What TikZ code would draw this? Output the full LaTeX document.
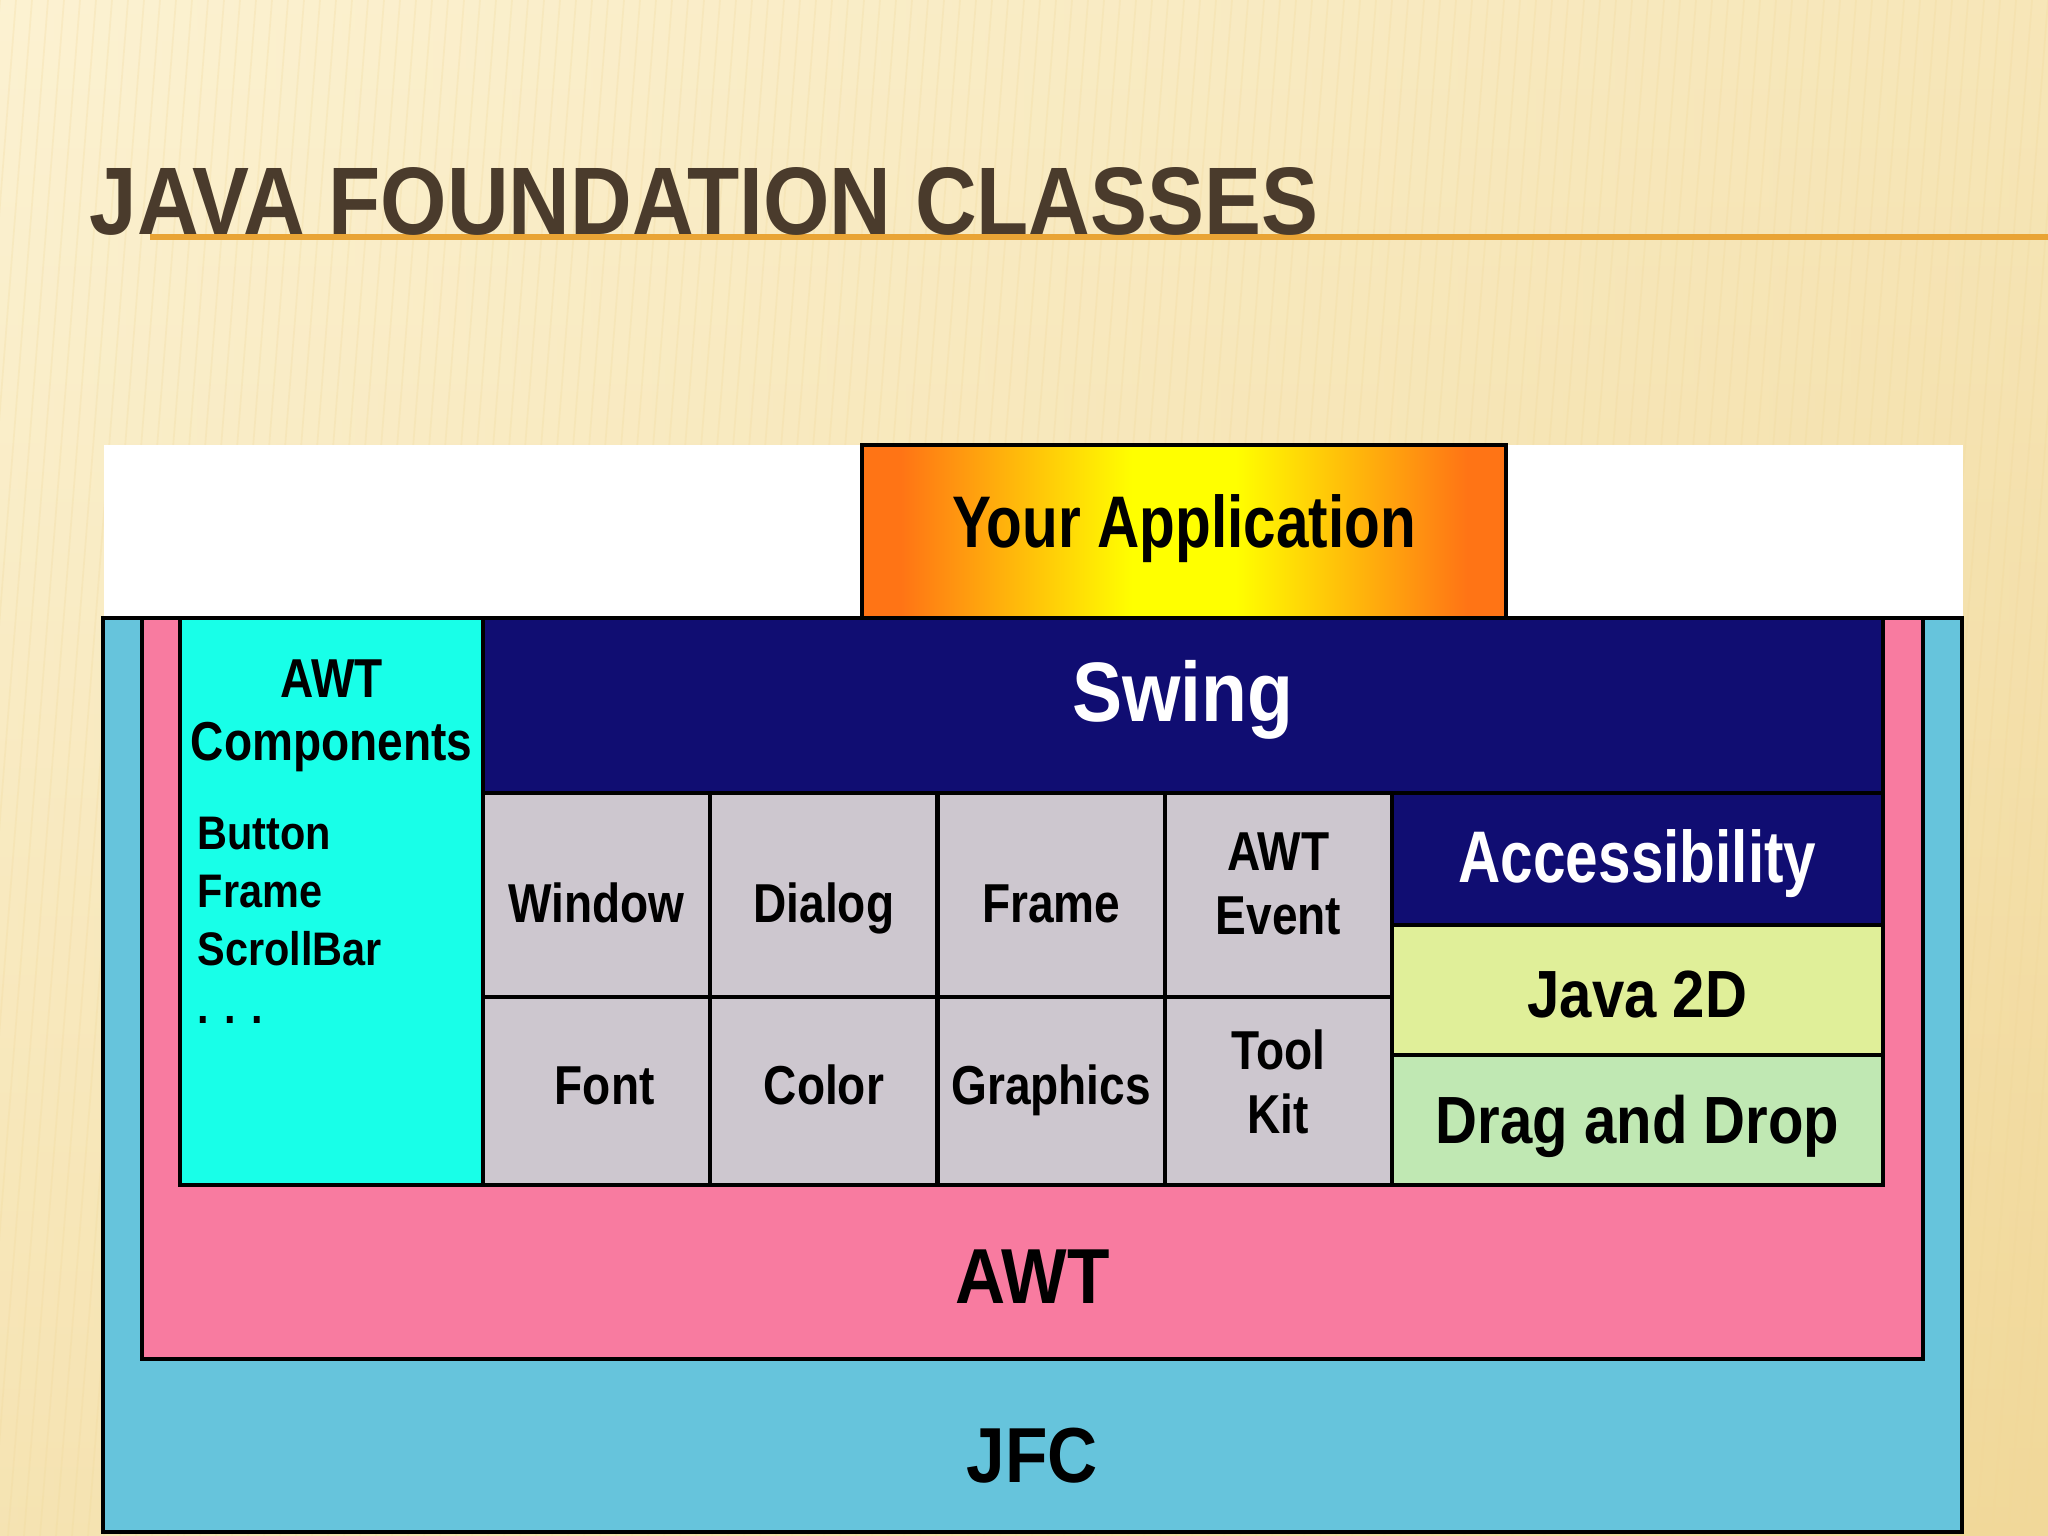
\documentclass[tikz,border=0pt]{standalone}
\usepackage{fontspec}
\setmainfont{Liberation Sans}
\usepackage{graphicx}
\usetikzlibrary{positioning}

\definecolor{bgtop}{HTML}{FCF2D2}
\definecolor{bgbot}{HTML}{F1D899}
\definecolor{titlebrown}{HTML}{4A3B2C}
\definecolor{titleline}{HTML}{E9A435}
\definecolor{jfcblue}{HTML}{66C4DC}
\definecolor{awtpink}{HTML}{F87BA0}
\definecolor{compcyan}{HTML}{18FFE8}
\definecolor{swingnavy}{HTML}{100D72}
\definecolor{cellgray}{HTML}{CDC7CF}
\definecolor{javayellow}{HTML}{E0EF99}
\definecolor{dndgreen}{HTML}{C0E8B3}
\definecolor{apporange}{HTML}{FF7415}
\pgfdeclarehorizontalshading{appshade}{100bp}{color(0bp)=(apporange); color(28bp)=(apporange); color(46bp)=(yellow); color(54bp)=(yellow); color(72bp)=(apporange); color(100bp)=(apporange)}

\newcommand{\nar}[1]{\scalebox{0.84}[1]{#1}}

\begin{document}
\begin{tikzpicture}[x=1cm,y=-1cm,
  box/.style={draw=black,line width=1.2pt,anchor=north west,inner sep=0pt,outer sep=0pt},
  cell/.style={box,fill=cellgray,minimum width=2.2725cm},
  txt/.style={inner sep=0pt,anchor=base,text=black,font=\bfseries\fontsize{15.6}{18}\selectfont},
  twoline/.style={txt,anchor=center,align=center},
  listtxt/.style={txt,anchor=base west,font=\bfseries\fontsize{13.4}{16}\selectfont},
  midtxt/.style={txt,font=\bfseries\fontsize{19}{22}\selectfont},
  bigtxt/.style={txt,font=\bfseries\fontsize{22.2}{26}\selectfont}]

%background
\useasboundingbox (0,0) rectangle (20.48,15.36);
\shade[top color=bgtop,bottom color=bgbot] (0,0) rectangle (20.48,15.36);
\shade[left color=bgtop,right color=bgbot,opacity=0.45] (0,0) rectangle (20.48,15.36);
\begin{scope}
\clip (0,0) rectangle (20.48,15.36);
\foreach \s in {0,0.16,...,22}
	\draw[bgbot,opacity=0.25,line width=0.5pt] (\s,0) -- (\s-1.2,15.36);
\end{scope}

%title
\draw[titleline,line width=1.6pt] (1.5,2.37) -- (20.48,2.37);
\node[inner sep=0pt,anchor=base west,text=titlebrown,font=\bfseries\fontsize{27.3}{30}\selectfont] (title) at (0.89,2.35) {\scalebox{0.89}[1]{JAVA FOUNDATION CLASSES}};

%layers
\node[inner sep=0pt,anchor=north west,fill=white,minimum width=18.59cm,minimum height=1.74cm] (panel) at (1.03,4.44) {};
\node[box,fill=jfcblue,minimum width=18.59cm,minimum height=9.14cm] (jfc) at (1.03,6.18) {};
\node[box,fill=awtpink,minimum width=17.81cm,minimum height=7.41cm] (awt) at (1.42,6.18) {};
\node[box,fill=compcyan,minimum width=3.03cm,minimum height=5.67cm] (comp) at (1.80,6.18) {};
\node[box,fill=swingnavy,minimum width=14.0cm,minimum height=1.75cm] (swing) at (4.83,6.18) {};

\foreach \i in {0,...,3}
{
	\node[cell,minimum height=2.04cm] (cell\i0) at (4.83+2.2725*\i,7.93) {};
	\node[cell,minimum height=1.88cm] (cell\i1) at (4.83+2.2725*\i,9.97) {};
}

\node[box,fill=swingnavy,minimum width=4.91cm,minimum height=1.32cm] (acc) at (13.92,7.93) {};
\node[box,fill=javayellow,minimum width=4.91cm,minimum height=1.30cm] (jtwod) at (13.92,9.25) {};
\node[box,fill=dndgreen,minimum width=4.91cm,minimum height=1.30cm] (dnd) at (13.92,10.55) {};

\node[box,shading=appshade,minimum width=6.44cm,minimum height=1.73cm] (app) at (8.62,4.45) {};

%labels
\node[txt,font=\bfseries\fontsize{20.8}{24}\selectfont] (tApp) at (app.center |- 0,5.48) {\scalebox{0.8}[1]{Your Application}};
\node[txt,text=white,font=\bfseries\fontsize{24}{28}\selectfont] (tSwing) at (swing.center |- 0,7.22) {\scalebox{0.89}[1]{Swing}};

\node[twoline] (tComp) at (comp.center |- 0,7.16) {\nar{AWT}\\\nar{Components}};
\foreach \t [count=\k] in {Button,Frame,ScrollBar,{. . .}}
	\node[listtxt] (item\k) at (1.97,7.91+0.58*\k) {\scalebox{0.88}[1]{\t}};

\node[txt] (tWin) at (cell00.center |- 0,9.22) {\nar{Window}};
\node[txt] (tDia) at (cell10.center |- 0,9.22) {\nar{Dialog}};
\node[txt] (tFrm) at (cell20.center |- 0,9.22) {\nar{Frame}};
\node[twoline] (tEvt) at (cell30.center |- 0,8.84) {\nar{AWT}\\\nar{Event}};
\node[txt] (tFnt) at ([xshift=0.08cm]cell01.center |- 0,11.04) {\nar{Font}};
\node[txt] (tCol) at (cell11.center |- 0,11.04) {\nar{Color}};
\node[txt] (tGfx) at (cell21.center |- 0,11.04) {\nar{Graphics}};
\node[twoline] (tTk) at (cell31.center |- 0,10.82) {\nar{Tool}\\\nar{Kit}};

\node[txt,text=white,font=\bfseries\fontsize{20.8}{24}\selectfont] (tAcc) at (acc.center |- 0,8.83) {\scalebox{0.8}[1]{Accessibility}};
\node[midtxt] (tJava) at (jtwod.center |- 0,10.17) {\scalebox{0.87}[1]{Java 2D}};
\node[midtxt] (tDnd) at (dnd.center |- 0,11.43) {\scalebox{0.87}[1]{Drag and Drop}};

\node[bigtxt] (tAwt) at (awt.center |- 0,13.03) {\scalebox{0.89}[1]{AWT}};
\node[bigtxt] (tJfc) at (jfc.center |- 0,14.82) {\scalebox{0.89}[1]{JFC}};
\end{tikzpicture}
\end{document}
